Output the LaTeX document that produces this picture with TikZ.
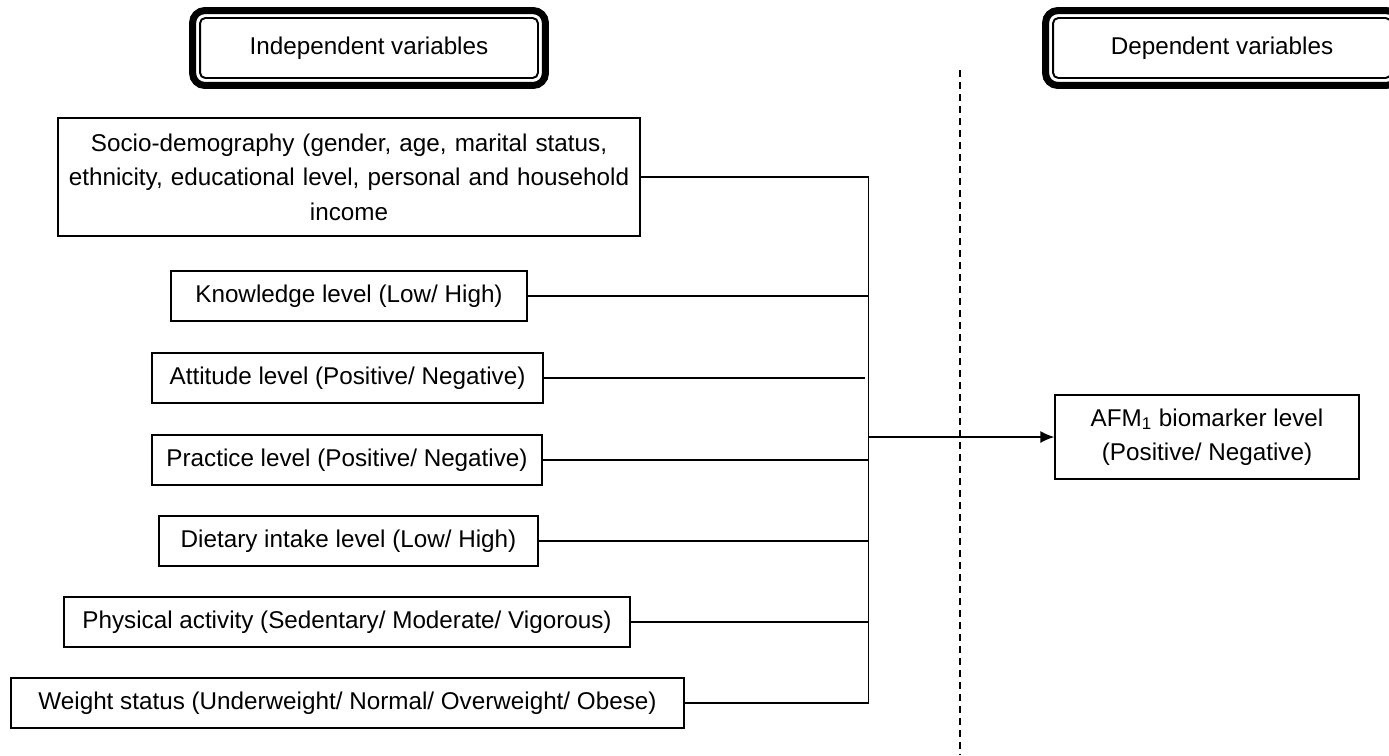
\documentclass[tikz,border=0pt]{standalone}
\usepackage{fontspec}
\setmainfont{Liberation Sans}
\usepackage{tikz}
\usetikzlibrary{arrows, arrows.meta}
\tikzstyle{factor} = [rectangle, minimum height=1cm, text centered, draw=black, line width=0.8pt, inner sep=2pt]
\tikzstyle{header} = [rectangle, rounded corners=3pt, minimum width=6.76cm, minimum height=1.2cm, text centered, draw=black, line width=1.1pt]
\tikzstyle{frame} = [line width=4pt, rounded corners=7pt]
\tikzstyle{link} = [line width=0.8pt]
\tikzstyle{arrow} = [line width=0.8pt,-{Latex[length=0.28cm, width=0.24cm]}]

\begin{document}
\begin{tikzpicture}[x=0.02cm, y=-0.02cm, font=\fontsize{13.8}{19.6}\selectfont]
		\useasboundingbox (0,0) rectangle (1389,755);
		
		\node (Indep) [header] at (369,48) {Independent variables};
		\node (Dep) [header] at (1222,48) {Dependent variables};
		\draw [frame] ([xshift=-0.13cm, yshift=0.13cm]Indep.north west) rectangle ([xshift=0.13cm, yshift=-0.13cm]Indep.south east);
		\draw [frame] ([xshift=-0.13cm, yshift=0.13cm]Dep.north west) rectangle ([xshift=0.13cm, yshift=-0.13cm]Dep.south east);
		
		\node (Socio) [factor, minimum width=11.64cm, minimum height=2.36cm, text width=11.5cm, align=center] at (349,177) {Socio-demography (gender, age, marital status,\\ ethnicity, educational level, personal and household\\ income};
		\node (Know) [factor, minimum width=7.12cm] at (349,296) {Knowledge level (Low/ High)};
		\node (Att) [factor, minimum width=7.82cm] at (347.5,378) {Attitude level (Positive/ Negative)};
		\node (Prac) [factor, minimum width=7.8cm] at (347,460) {Practice level (Positive/ Negative)};
		\node (Diet) [factor, minimum width=7.58cm] at (348.5,541) {Dietary intake level (Low/ High)};
		\node (Phys) [factor, minimum width=11.32cm] at (347,622) {Physical activity (Sedentary/ Moderate/ Vigorous)};
		\node (Weight) [factor, minimum width=13.46cm] at (347.5,703) {Weight status (Underweight/ Normal/ Overweight/ Obese)};
		\node (AFM) [factor, minimum width=6.08cm, minimum height=1.68cm, align=center] at (1207,437) {AFM\textsubscript{1} biomarker level\\ (Positive/ Negative)};
		
		\coordinate (bus) at (868.5,0);
		\coordinate (split top) at (960,70);
		\coordinate (split bottom) at (960,755);
		
		\draw [dashed, line width=0.8pt, dash pattern=on 0.14cm off 0.1cm] (split top) -- (split bottom);
		\draw [link] (Socio.east) -- (Socio.east -| bus);
		\draw [link] (Know.east) -- (Know.east -| bus);
		\draw [link] (Att.east) -- ([xshift=-0.08cm]Att.east -| bus);
		\draw [link] (Prac.east) -- (Prac.east -| bus);
		\draw [link] (Diet.east) -- (Diet.east -| bus);
		\draw [link] (Phys.east) -- (Phys.east -| bus);
		\draw [link] (Weight.east) -- (Weight.east -| bus);
		\draw [link] (Socio.east -| bus) -- (Weight.east -| bus);
		\draw [arrow] (AFM.west -| bus) -- (AFM.west);
	\end{tikzpicture}
\end{document}
